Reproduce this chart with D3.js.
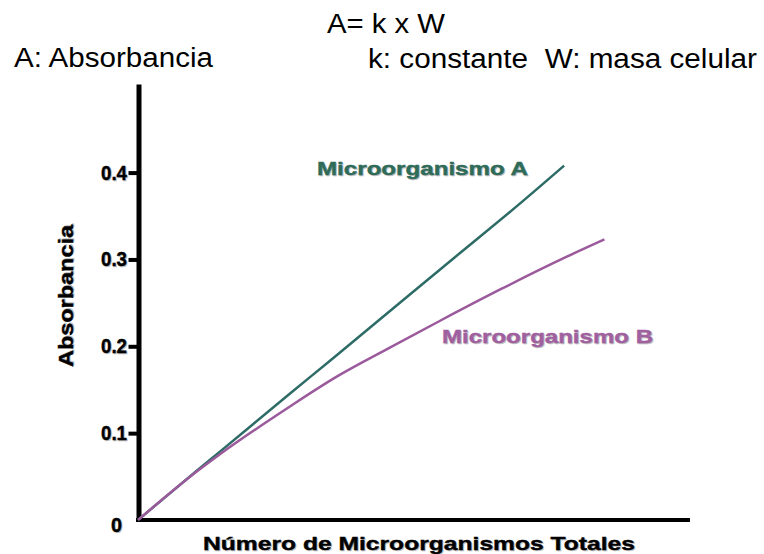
<!DOCTYPE html>
<html>
<head>
<meta charset="utf-8">
<script src="https://cdn.jsdelivr.net/npm/d3@7"></script>
<style>
  body { margin: 0; background: #fff; }
  svg { display: block; font-family: "Liberation Sans", Arial, sans-serif; }
</style>
</head>
<body>
<div id="chart"></div>
<script>
// values (x = fraction of the x axis, y = absorbance)
var xA = [0, 0.107, 0.149, 0.276, 0.349, 0.573, 0.695, 0.772];
var yA = [0, 0.057, 0.079, 0.146, 0.184, 0.302, 0.366, 0.408];
var xB = [0, 0.107, 0.149, 0.276, 0.36, 0.452, 0.549, 0.658, 0.773, 0.845];
var yB = [0, 0.056, 0.076, 0.131, 0.165, 0.197, 0.230, 0.266, 0.302, 0.323];
var yTicks = [0, 0.1, 0.2, 0.3, 0.4];
var seriesNames = ["Microorganismo A", "Microorganismo B"];

var width = 764, height = 554;

var svg = d3.select("#chart").append("svg")
    .attr("width", width)
    .attr("height", height);

var x = d3.scaleLinear().domain([0, 1]).range([138, 690]);
var y = d3.scaleLinear().domain([0, 0.502]).range([520, 84]);

// header texts
svg.append("text").attr("x", 327).attr("y", 33)
    .attr("font-size", 27).attr("textLength", 118).attr("lengthAdjust", "spacingAndGlyphs")
    .text("A= k x W");
svg.append("text").attr("x", 14).attr("y", 67)
    .attr("font-size", 27).attr("textLength", 199).attr("lengthAdjust", "spacingAndGlyphs")
    .text("A: Absorbancia");
svg.append("text").attr("x", 368).attr("y", 68)
    .attr("font-size", 27).attr("textLength", 389).attr("lengthAdjust", "spacingAndGlyphs")
    .text("k: constante \u00a0W: masa celular");

// bold text with the grey drop shadow of the original
function shadowText(px, py, size, len, color, txt, rot) {
  var g = svg.append("g");
  if (rot) g.attr("transform", "translate(" + px + "," + py + ") rotate(-90)");
  else g.attr("transform", "translate(" + px + "," + py + ")");
  [["#bdbdbd", 1], [color, 0]].forEach(function(s) {
    var t = g.append("text")
        .attr("x", s[1]).attr("y", s[1])
        .attr("font-size", size).attr("font-weight", "bold")
        .attr("fill", s[0])
        .attr("stroke", s[0]).attr("stroke-width", 0.4)
        .text(txt);
    if (len) t.attr("textLength", len).attr("lengthAdjust", "spacingAndGlyphs");
    if (rot) t.attr("text-anchor", "middle");
  });
}

// axes
var yAxis = d3.axisLeft(y).tickValues(yTicks).tickSize(10).tickSizeOuter(0);
var gy = svg.append("g").attr("transform", "translate(138.5,0)").call(yAxis);
gy.select(".domain").attr("stroke", "#000").attr("stroke-width", 5);
gy.selectAll(".tick line").attr("stroke", "#000").attr("stroke-width", 4)
    .filter(function(d) { return d === 0; }).remove();
gy.selectAll(".tick text").remove();

var xAxis = d3.axisBottom(x).tickValues([]).tickSizeOuter(0);
var gx = svg.append("g").attr("transform", "translate(0,520)").call(xAxis);
gx.select(".domain").attr("stroke", "#000").attr("stroke-width", 4)
    .attr("d", "M136,0H690");

// tick labels
yTicks.forEach(function(d) {
  if (d === 0) shadowText(111, y(d) + 12, 20, 11, "#000", "0");
  else shadowText(101, y(d) + 7, 20, 26, "#000", d3.format(".1f")(d));
});

// lines
var line = d3.line()
    .x(function(d) { return x(d[0]); })
    .y(function(d) { return y(d[1]); })
    .curve(d3.curveMonotoneX);

svg.append("path").datum(d3.zip(xA, yA))
    .attr("fill", "none").attr("stroke", "#2d6b66").attr("stroke-width", 2.5)
    .attr("d", line);
svg.append("path").datum(d3.zip(xB, yB))
    .attr("fill", "none").attr("stroke", "#9b5a9b").attr("stroke-width", 2.5)
    .attr("d", line);

// series labels
shadowText(317, 175, 18, 211, "#2e6b58", seriesNames[0]);
shadowText(442, 343, 18, 211, "#a0609f", seriesNames[1]);

// axis titles
shadowText(203, 550, 19, 432, "#000", "Número de Microorganismos Totales");
shadowText(73, 296, 20, 142, "#000", "Absorbancia", true);
</script>
</body>
</html>
